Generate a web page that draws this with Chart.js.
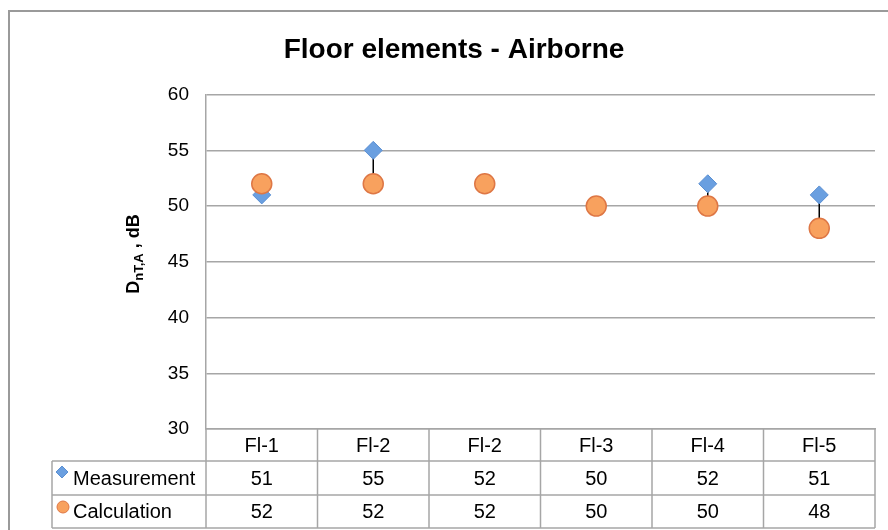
<!DOCTYPE html>
<html>
<head>
<meta charset="utf-8">
<title>Floor elements - Airborne</title>
<script src="https://cdn.jsdelivr.net/npm/chart.js@4.4.0/dist/chart.umd.min.js"></script>
<style>
  html, body { margin: 0; padding: 0; background: #fff; }
  #wrap { width: 888px; height: 530px; }
</style>
</head>
<body>
<div id="wrap"><canvas id="chart" width="888" height="530"></canvas></div>
<script>
// data
const categories = ["Fl-1", "Fl-2", "Fl-2", "Fl-3", "Fl-4", "Fl-5"];
const measurement = [51, 55, 52, 50, 52, 51];
const calculation = [52, 52, 52, 50, 50, 48];
const yTicks = [30, 35, 40, 45, 50, 55, 60];

const FONT = "'Liberation Sans', Arial, Helvetica, sans-serif";
const LINE = "#a6a6a6";
const TEXT = "#000";
const BLUE = "#6a9fe0", BLUE_EDGE = "#5a8fd2";
const ORANGE = "#f8a15e", ORANGE_EDGE = "#de7745";

// table row heights under the plot: header, measurement, calculation
const rowH = [32, 34, 33];
const tableLeft = 52;

function diamond(ctx, x, y, r, fill, edge) {
  ctx.beginPath();
  ctx.moveTo(x, y - r);
  ctx.lineTo(x + r, y);
  ctx.lineTo(x, y + r);
  ctx.lineTo(x - r, y);
  ctx.closePath();
  ctx.fillStyle = fill;
  ctx.fill();
  ctx.strokeStyle = edge;
  ctx.lineWidth = 1;
  ctx.stroke();
}

function dot(ctx, x, y, r, fill, edge) {
  ctx.beginPath();
  ctx.arc(x, y, r, 0, Math.PI * 2);
  ctx.fillStyle = fill;
  ctx.fill();
  ctx.strokeStyle = edge;
  ctx.lineWidth = 1;
  ctx.stroke();
}

const extras = {
  id: "extras",
  beforeDraw(chart) {
    const ctx = chart.ctx;
    // outer frame
    ctx.save();
    ctx.strokeStyle = "#9a9a9a";
    ctx.lineWidth = 2;
    ctx.beginPath();
    ctx.moveTo(9, 530);
    ctx.lineTo(9, 11);
    ctx.lineTo(888, 11);
    ctx.stroke();
    ctx.restore();
  },
  beforeDatasetsDraw(chart) {
    // high-low lines between the two series
    const ctx = chart.ctx;
    const xs = chart.scales.x, ys = chart.scales.y;
    ctx.save();
    ctx.strokeStyle = "#000";
    ctx.lineWidth = 1.5;
    categories.forEach((c, i) => {
      const x = xs.getPixelForValue(i);
      const a = ys.getPixelForValue(measurement[i]);
      const b = ys.getPixelForValue(calculation[i]);
      if (a === b) return;
      ctx.beginPath();
      ctx.moveTo(x, a);
      ctx.lineTo(x, b);
      ctx.stroke();
    });
    ctx.restore();
  },
  afterDraw(chart) {
    const ctx = chart.ctx;
    const area = chart.chartArea;
    const xs = chart.scales.x;
    const colW = (area.right - area.left) / categories.length;
    const top = area.bottom;
    const y1 = top + rowH[0];
    const y2 = y1 + rowH[1];
    const y3 = y2 + rowH[2];

    ctx.save();
    ctx.strokeStyle = LINE;
    ctx.lineWidth = 1.5;
    ctx.beginPath();
    [y1, y2, y3].forEach(y => {
      ctx.moveTo(tableLeft, y);
      ctx.lineTo(area.right, y);
    });
    for (let i = 0; i <= categories.length; i++) {
      const x = area.left + i * colW;
      ctx.moveTo(x, top);
      ctx.lineTo(x, y3);
    }
    ctx.moveTo(tableLeft, y1);
    ctx.lineTo(tableLeft, y3);
    ctx.stroke();

    ctx.fillStyle = TEXT;
    ctx.font = "20px " + FONT;
    ctx.textAlign = "center";
    ctx.textBaseline = "middle";
    categories.forEach((c, i) => {
      const x = xs.getPixelForValue(i);
      ctx.fillText(c, x, top + rowH[0] / 2 + 1);
      ctx.fillText(String(measurement[i]), x, y1 + rowH[1] / 2 + 1);
      ctx.fillText(String(calculation[i]), x, y2 + rowH[2] / 2 + 1);
    });

    // row headers with series keys
    diamond(ctx, 62, y1 + 11, 6, BLUE, BLUE_EDGE);
    dot(ctx, 63, y2 + 12, 6, ORANGE, ORANGE_EDGE);
    ctx.fillStyle = TEXT;
    ctx.textAlign = "left";
    ctx.fillText("Measurement", 73, y1 + rowH[1] / 2 + 1);
    ctx.fillText("Calculation", 73, y2 + rowH[2] / 2 + 1);

    // y axis title with subscript: DnT,A , dB
    ctx.translate(133, 254);
    ctx.rotate(-Math.PI / 2);
    const big = "bold 18px " + FONT, small = "bold 13px " + FONT;
    const parts = [["D", big, 0], ["nT,A", small, 4], [" , dB", big, 0]];
    let total = 0;
    parts.forEach(p => { ctx.font = p[1]; total += ctx.measureText(p[0]).width; });
    let x = -total / 2;
    ctx.textAlign = "left";
    ctx.textBaseline = "alphabetic";
    ctx.fillStyle = "#000";
    parts.forEach(p => {
      ctx.font = p[1];
      ctx.fillText(p[0], x, 6 + p[2]);
      x += ctx.measureText(p[0]).width;
    });
    ctx.restore();
  }
};

new Chart(document.getElementById("chart"), {
  type: "line",
  data: {
    labels: categories,
    datasets: [
      {
        label: "Measurement",
        data: measurement,
        showLine: false,
        pointStyle: "rectRot",
        pointRadius: 9,
        pointHoverRadius: 9,
        backgroundColor: BLUE,
        borderColor: BLUE_EDGE,
        pointBorderWidth: 1,
        order: 2
      },
      {
        label: "Calculation",
        data: calculation,
        showLine: false,
        pointStyle: "circle",
        pointRadius: 10,
        pointHoverRadius: 10,
        backgroundColor: ORANGE,
        borderColor: ORANGE_EDGE,
        pointBorderWidth: 1.5,
        order: 1
      }
    ]
  },
  options: {
    responsive: false,
    animation: false,
    layout: { padding: { left: 33, right: 13, top: 0, bottom: 3 } },
    plugins: {
      legend: { display: false },
      tooltip: { enabled: false },
      title: {
        display: true,
        text: "Floor elements - Airborne",
        color: "#000",
        font: { family: FONT, size: 28, weight: "bold" },
        padding: { top: 33, bottom: 28 }
      }
    },
    scales: {
      x: {
        offset: true,
        ticks: { display: false },
        grid: { display: false },
        border: { display: true, color: LINE, width: 1.5 },
        afterFit(scale) { scale.height = 98; }
      },
      y: {
        min: 30,
        max: 60,
        afterBuildTicks(scale) { scale.ticks = yTicks.map(v => ({ value: v })); },
        ticks: { color: TEXT, padding: 17, font: { family: FONT, size: 19 } },
        grid: { color: LINE, lineWidth: 1.5, drawTicks: false },
        border: { display: true, color: LINE, width: 1.5 },
        afterFit(scale) { scale.width = 173; }
      }
    }
  },
  plugins: [extras]
});
</script>
</body>
</html>
